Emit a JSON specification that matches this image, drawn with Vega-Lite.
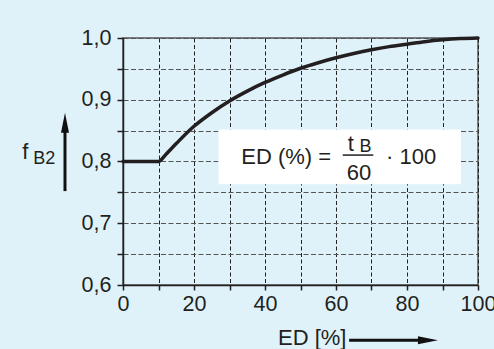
{
  "$schema": "https://vega.github.io/schema/vega-lite/v6.json",
  "width": 355,
  "height": 247,
  "autosize": {"type": "none"},
  "padding": {"left": 123, "top": 38, "right": 16, "bottom": 64},
  "background": "#dff2fa",
  "config": {
    "font": "Liberation Sans",
    "view": {"stroke": "#555555", "strokeWidth": 1.5, "fill": null},
    "axis": {"labelFont": "Liberation Sans", "labelColor": "#231f20", "labelFontSize": 21.5}
  },
  "datasets": {
    "curve": [
      {"x": 0, "y": 0.8}, {"x": 10, "y": 0.8}, {"x": 12, "y": 0.811}, {"x": 15, "y": 0.829},
      {"x": 20, "y": 0.857}, {"x": 25, "y": 0.879}, {"x": 30, "y": 0.898}, {"x": 35, "y": 0.914},
      {"x": 40, "y": 0.928}, {"x": 45, "y": 0.94}, {"x": 50, "y": 0.951}, {"x": 55, "y": 0.96},
      {"x": 60, "y": 0.968}, {"x": 65, "y": 0.975}, {"x": 70, "y": 0.981}, {"x": 75, "y": 0.986},
      {"x": 80, "y": 0.99}, {"x": 85, "y": 0.994}, {"x": 90, "y": 0.997}, {"x": 95, "y": 0.999},
      {"x": 100, "y": 1.0}
    ],
    "box": [{"x": 26.9, "x2": 95.2, "y": 0.763, "y2": 0.852}],
    "bigtext": [
      {"x": 33.3, "y": 0.7964, "text": "ED (%) ="},
      {"x": 63.3, "y": 0.8163, "text": "t"},
      {"x": 74.1, "y": 0.7964, "text": "· 100"},
      {"x": -28.4, "y": 0.8034, "text": "f"},
      {"x": 43.66, "y": 0.5024, "text": "ED [%]"}
    ],
    "centertext": [{"x": 66.5, "y": 0.7694, "text": "60"}],
    "smalltext": [
      {"x": 66.6, "y": 0.8147, "text": "B", "fs": 18},
      {"x": -25.3, "y": 0.7953, "text": "B2", "fs": 18}
    ],
    "fracbar": [{"x": 61.9, "x2": 70.5, "y": 0.8104}],
    "vshaft": [{"x": -16.34, "y": 0.7521, "y2": 0.85}],
    "hshaft": [{"x": 63.7, "x2": 83.7, "y": 0.5105}],
    "uphead": [{"x": -16.34, "y": 0.8628}],
    "righthead": [{"x": 85.9, "y": 0.5105}]
  },
  "encoding": {
    "x": {
      "field": "x", "type": "quantitative",
      "scale": {"domain": [0, 100], "nice": false, "zero": false},
      "axis": {
        "title": null,
        "values": [0, 10, 20, 30, 40, 50, 60, 70, 80, 90, 100],
        "labelExpr": "datum.value % 20 == 0 ? datum.label : ''",
        "grid": true, "gridColor": "#222222", "gridDash": [4, 2.5], "gridWidth": 1,
        "domainColor": "#231f20", "domainWidth": 1.5,
        "tickColor": "#231f20", "tickWidth": 1.5, "tickSize": 5,
        "labelPadding": 3, "labelOverlap": false, "labelFlush": false, "labelBound": false
      }
    },
    "y": {
      "field": "y", "type": "quantitative",
      "scale": {"domain": [0.6, 1.0], "nice": false, "zero": false},
      "axis": {
        "title": null,
        "values": [0.6, 0.65, 0.7, 0.75, 0.8, 0.85, 0.9, 0.95, 1.0],
        "labelExpr": "abs(datum.value * 10 - round(datum.value * 10)) < 0.001 ? replace(format(datum.value, '.1f'), '.', ',') : ''",
        "grid": true, "gridColor": "#555555", "gridDash": [5, 2.5], "gridWidth": 1,
        "domainColor": "#231f20", "domainWidth": 1.5,
        "tickColor": "#231f20", "tickWidth": 1.5, "tickSize": 6,
        "labelPadding": 6, "labelOverlap": false, "labelBound": false
      }
    }
  },
  "layer": [
    {
      "data": {"name": "box"},
      "mark": {"type": "rect", "fill": "white", "stroke": null, "clip": false},
      "encoding": {"x2": {"field": "x2"}, "y2": {"field": "y2"}}
    },
    {
      "data": {"name": "curve"},
      "mark": {"type": "line", "interpolate": "monotone", "color": "#231f20", "strokeWidth": 3.5, "strokeCap": "round", "clip": false},
      "encoding": {}
    },
    {
      "data": {"name": "bigtext"},
      "mark": {"type": "text", "align": "left", "baseline": "alphabetic", "fontSize": 22, "color": "#231f20", "font": "Liberation Sans", "clip": false},
      "encoding": {"text": {"field": "text"}}
    },
    {
      "data": {"name": "centertext"},
      "mark": {"type": "text", "align": "center", "baseline": "alphabetic", "fontSize": 22, "color": "#231f20", "font": "Liberation Sans", "clip": false},
      "encoding": {"text": {"field": "text"}}
    },
    {
      "data": {"name": "smalltext"},
      "mark": {"type": "text", "align": "left", "baseline": "alphabetic", "color": "#231f20", "font": "Liberation Sans", "clip": false},
      "encoding": {"text": {"field": "text"}, "size": {"field": "fs", "type": "quantitative", "scale": null}}
    },
    {
      "data": {"name": "fracbar"},
      "mark": {"type": "rule", "color": "#231f20", "strokeWidth": 1.5, "clip": false},
      "encoding": {"x2": {"field": "x2"}}
    },
    {
      "data": {"name": "vshaft"},
      "mark": {"type": "rule", "color": "#111111", "strokeWidth": 3, "clip": false},
      "encoding": {"y2": {"field": "y2"}}
    },
    {
      "data": {"name": "hshaft"},
      "mark": {"type": "rule", "color": "#111111", "strokeWidth": 3, "clip": false},
      "encoding": {"x2": {"field": "x2"}}
    },
    {
      "data": {"name": "uphead"},
      "mark": {"type": "point", "shape": "M0,-1L0.4,1L-0.4,1Z", "size": 400, "filled": true, "color": "#111111", "opacity": 1, "clip": false},
      "encoding": {}
    },
    {
      "data": {"name": "righthead"},
      "mark": {"type": "point", "shape": "M1,0L-1,-0.4L-1,0.4Z", "size": 400, "filled": true, "color": "#111111", "opacity": 1, "clip": false},
      "encoding": {}
    }
  ]
}
